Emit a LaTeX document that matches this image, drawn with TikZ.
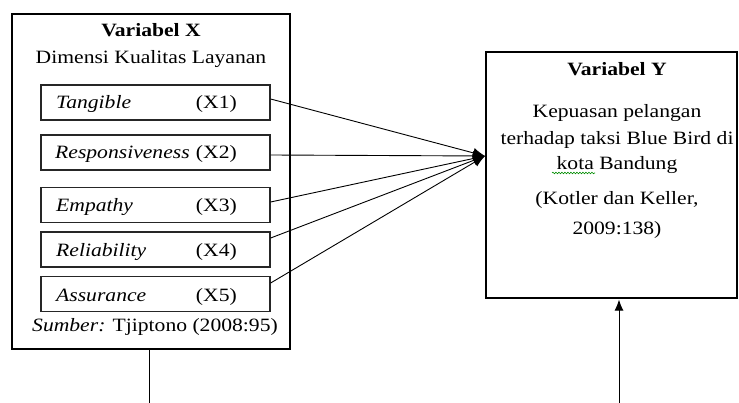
\documentclass[tikz,border=0pt]{standalone}
\usepackage{fontspec}
\setmainfont[FakeStretch=1.15]{Liberation Serif}
\usetikzlibrary{arrows.meta,decorations.pathmorphing}
\begin{document}
\begin{tikzpicture}[x=1pt,y=-1pt,
 outer/.style={draw, line width=1.1pt, inner sep=0pt, rectangle},
 inner/.style={draw, line width=1.3pt, black!85, inner sep=0pt, rectangle, minimum width=229pt, minimum height=35pt},
 txt/.style={anchor=base, inner sep=0pt, font=\fontsize{18.8}{22}\selectfont},
 link/.style={line width=0.9pt, -{Latex[length=12pt,width=10pt]}},
]
\useasboundingbox (0,0) rectangle (739,403);
% outer boxes
\node[outer, minimum width=278pt, minimum height=335pt] (X) at (151,181.5) {};
\node[outer, minimum width=251pt, minimum height=246pt] (Y) at (611.5,175) {};
% left header
\node[txt, font=\fontsize{18.8}{22}\selectfont\bfseries] (xt) at (151,37) {Variabel X};
\node[txt] (xd) at (151,64) {Dimensi Kualitas Layanan};
% inner boxes
\node[inner] (t) at (155.5,102.5) {};
\node[inner] (r) at (155.5,152.5) {};
\node[inner] (e) at (155.5,205) {};
\node[inner] (l) at (155.5,249.5) {};
\node[inner] (a) at (155.5,294) {};
\node[txt, anchor=base west] (tn) at (56,109) {\itshape Tangible};
\node[txt, anchor=base east] (tx) at (237,109) {(X1)};
\node[txt, anchor=base west] (rn) at (55,159) {\itshape Responsiveness};
\node[txt, anchor=base east] (rx) at (237,159) {(X2)};
\node[txt, anchor=base west] (en) at (56,212) {\itshape Empathy};
\node[txt, anchor=base east] (ex) at (237,212) {(X3)};
\node[txt, anchor=base west] (ln) at (56,257) {\itshape Reliability};
\node[txt, anchor=base east] (lx) at (237,257) {(X4)};
\node[txt, anchor=base west] (an) at (56,302) {\itshape Assurance};
\node[txt, anchor=base east] (ax) at (237,302) {(X5)};
\node[txt] (src) at (155,332) {\textit{Sumber:} Tjiptono (2008:95)};
% right texts
\node[txt, font=\fontsize{18.8}{22}\selectfont\bfseries] (yt) at (617,76) {Variabel Y};
\node[txt] (y1) at (617,118) {Kepuasan pelangan};
\node[txt] (y2) at (617,145) {terhadap taksi Blue Bird di};
\node[txt] (y3) at (617,170) {kota Bandung};
\node[txt] (y4) at (617,205) {(Kotler dan Keller,};
\node[txt] (y5) at (617,235) {2009:138)};
\draw[green!55!black, line width=0.6pt, decorate, decoration={snake,amplitude=0.8pt,segment length=3pt}] (552,173) -- (595,173);
% connectors
\coordinate (tip) at (485,156);
\draw[link] ([yshift=3.5pt]t.east) -- (tip);
\draw[link] ([yshift=-2.5pt]r.east) -- (tip);
\draw[link] ([yshift=3pt]e.east) -- (tip);
\draw[link] ([yshift=11.5pt]l.east) -- (tip);
\draw[link] ([yshift=11pt]a.east) -- (tip);
% bottom lines
\coordinate (b1) at (149,403);
\coordinate (b2) at (619,403);
\draw[line width=1pt] (b1 |- X.south) -- (b1);
\draw[line width=1pt, -{Latex[length=11pt,width=9pt]}] (b2) -- ([yshift=-1pt]b2 |- Y.south);
\end{tikzpicture}
\end{document}
